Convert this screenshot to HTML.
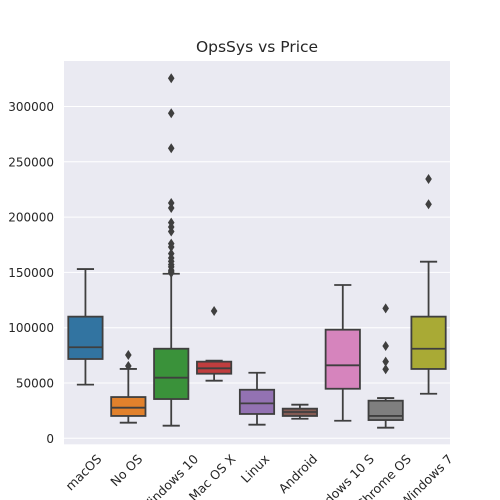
<!DOCTYPE html>
<html><head><meta charset="utf-8"><style>
body{margin:0;background:#fff}
svg{display:block;font-family:"DejaVu Sans","Liberation Sans",sans-serif}
</style></head><body>
<svg id="chart" width="500" height="500">
<rect x="0" y="0" width="500" height="500" fill="#fff"/>
<rect x="64" y="61" width="386" height="383.3" fill="#eaeaf2"/>
<g id="grid"></g>
<g id="yticks"></g>
<g id="boxes"></g>
<g id="xticks"></g>
<text x="257" y="52" text-anchor="middle" font-size="15.5" fill="#262626">OpsSys vs Price</text>
</svg>
<script>
const categories = ["macOS","No OS","Windows 10","Mac OS X","Linux","Android","Windows 10 S","Chrome OS","Windows 7"];
const whiskerLow = [48500,14100,11400,52100,12300,17700,15900,9600,40300];
const q1 = [71700,20200,35500,58400,22000,20200,44800,16500,62700];
const medians = [82300,27700,54800,63300,31600,23800,66000,20200,81000];
const q3 = [110000,37300,81000,69300,43900,26800,98200,34000,110000];
const whiskerHigh = [153000,62700,148800,70200,59300,30400,138600,36400,159700];
const outliers = [[],[65400,75300],[325500,293900,262200,212800,208200,195000,191000,187000,176000,173000,167000,163000,160000,157000,155000,152000,150500,149500],[115100],[],[],[],[62400,69300,83500,117500],[211600,234400]];
const yTicks = [0,50000,100000,150000,200000,250000,300000];
const colors = ["#3274a1","#e1812c","#3a923a","#c03d3e","#9372b2","#845b53","#d684bd","#7f7f7f","#a9aa35"];

const NS="http://www.w3.org/2000/svg";
const L=64,R=450;
const y=v=>438.3-v*110.6/100000;
const band=(R-L)/categories.length;
const x=i=>L+band*(i+0.5);
function mk(t,a,p){const e=document.createElementNS(NS,t);for(const k in a)e.setAttribute(k,a[k]);p.appendChild(e);return e;}
const grid=document.getElementById('grid'),yt=document.getElementById('yticks'),bx=document.getElementById('boxes'),xt=document.getElementById('xticks');
yTicks.forEach(v=>{
  const g=mk('line',{x1:L,x2:R,y1:y(v),y2:y(v),stroke:'#fff','stroke-width':1},grid);
  
  
  const t=mk('text',{x:54,y:y(v)+4.5,'text-anchor':'end','font-size':12,fill:'#262626'},yt);
  t.textContent=String(v);
  
  
});
const bw=band*0.8, lc='#3f3f3f', lw=1.8;
categories.forEach((c,i)=>{
  const cx=x(i);
  const g=mk('g',{},bx);
  
  
  mk('line',{x1:cx,x2:cx,y1:y(whiskerLow[i]),y2:y(q1[i]),stroke:lc,'stroke-width':lw},g);
  mk('line',{x1:cx,x2:cx,y1:y(q3[i]),y2:y(whiskerHigh[i]),stroke:lc,'stroke-width':lw},g);
  mk('line',{x1:cx-bw/4,x2:cx+bw/4,y1:y(whiskerLow[i]),y2:y(whiskerLow[i]),stroke:lc,'stroke-width':lw},g);
  mk('line',{x1:cx-bw/4,x2:cx+bw/4,y1:y(whiskerHigh[i]),y2:y(whiskerHigh[i]),stroke:lc,'stroke-width':lw},g);
  mk('rect',{x:cx-bw/2,y:y(q3[i]),width:bw,height:y(q1[i])-y(q3[i]),fill:colors[i],stroke:lc,'stroke-width':lw},g);
  mk('line',{x1:cx-bw/2,x2:cx+bw/2,y1:y(medians[i]),y2:y(medians[i]),stroke:lc,'stroke-width':lw},g);
  outliers[i].forEach(v=>{
    const py=y(v);
    const d=mk('path',{d:`M${cx} ${py-5}L${cx+3.3} ${py}L${cx} ${py+5}L${cx-3.3} ${py}Z`,fill:lc},g);
    
    
  });
  const t=mk('text',{'font-size':12.5,fill:'#262626','text-anchor':'middle','dominant-baseline':'central'},xt);
  t.textContent=c;
  
  
  const w=t.getComputedTextLength(), h=13;
  const half=(w+h)*Math.SQRT1_2/2;
  const cy=452+half;
  t.setAttribute('x',cx-2);t.setAttribute('y',cy);
  t.setAttribute('transform',`rotate(-45 ${cx-2} ${cy})`);
});
</script>
</body></html>
